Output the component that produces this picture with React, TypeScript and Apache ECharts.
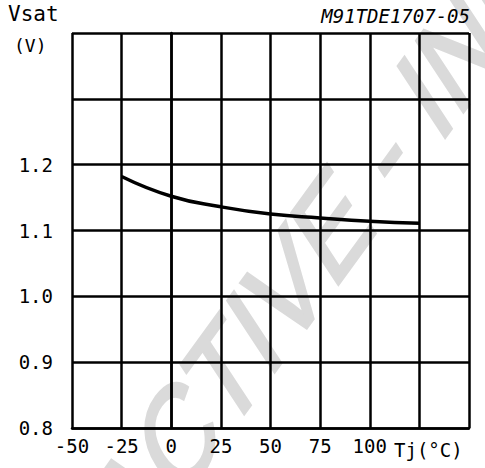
import React, { useEffect, useRef } from "react";
import * as echarts from "echarts";

const tempC = [-25, 0, 25, 50, 75, 100, 125];
const vsat = [1.182, 1.152, 1.136, 1.125, 1.119, 1.114, 1.111];
const xTickMax = 100;
const yTickMax = 1.2;
const chartCode = "M91TDE1707-05";
const yName = "Vsat";
const yUnit = "(V)";
const xName = "Tj(°C)";
const watermark = "ACTIVE - INFO";

const FONT = "'DejaVu Sans Mono', monospace";

export default function App() {
  const ref = useRef<HTMLDivElement>(null);
  useEffect(() => {
    if (!ref.current) return;
    const chart = echarts.init(ref.current, null, { renderer: "svg" });
    chart.setOption({
      animation: false,
      backgroundColor: "#ffffff",
      grid: { left: 72, right: 16, top: 33, bottom: 40 },
      xAxis: {
        type: "value",
        min: -50,
        max: 150,
        interval: 25,
        axisLine: { show: true, lineStyle: { color: "#000", width: 2.5 } },
        axisTick: { show: false },
        splitLine: { show: true, lineStyle: { color: "#000", width: 2.5 } },
        axisLabel: {
          color: "#000",
          fontFamily: FONT,
          fontSize: 19,
          margin: 8,
          formatter: (v: number) => (v <= xTickMax ? String(v) : ""),
        },
      },
      yAxis: {
        type: "value",
        min: 0.8,
        max: 1.4,
        interval: 0.1,
        axisLine: { show: true, lineStyle: { color: "#000", width: 2.5 } },
        axisTick: { show: false },
        splitLine: { show: true, lineStyle: { color: "#000", width: 2.5 } },
        axisLabel: {
          color: "#000",
          fontFamily: FONT,
          fontSize: 19,
          margin: 19,
          formatter: (v: number) => (v <= yTickMax + 1e-9 ? v.toFixed(1) : ""),
        },
      },
      graphic: [
        {
          type: "text",
          z: -10,
          silent: true,
          x: 108,
          y: 532,
          rotation: 0.942,
          skewX: -0.36,
          style: {
            text: watermark,
            fill: "#dadada",
            stroke: "#dadada",
            lineWidth: 3,
            font: "116px 'Liberation Sans', Arial, sans-serif",
            textAlign: "left",
            textVerticalAlign: "middle",
          },
        },
        {
          type: "text",
          x: 8,
          y: 14,
          style: {
            text: yName,
            fill: "#000",
            font: `21px ${FONT}`,
            textAlign: "left",
            textVerticalAlign: "middle",
          },
        },
        {
          type: "text",
          x: 14,
          y: 45,
          style: {
            text: yUnit,
            fill: "#000",
            font: `18px ${FONT}`,
            textAlign: "left",
            textVerticalAlign: "middle",
          },
        },
        {
          type: "text",
          x: 470,
          y: 16,
          style: {
            text: chartCode,
            fill: "#000",
            font: `italic 19px ${FONT}`,
            textAlign: "right",
            textVerticalAlign: "middle",
          },
        },
        {
          type: "text",
          x: 394,
          y: 450,
          style: {
            text: xName,
            fill: "#000",
            font: `19px ${FONT}`,
            textAlign: "left",
            textVerticalAlign: "middle",
          },
        },
      ],
      series: [
        {
          type: "line",
          data: tempC.map((t, i) => [t, vsat[i]]),
          smooth: true,
          symbol: "none",
          z: 5,
          lineStyle: { color: "#000", width: 3.5 },
        },
      ],
    });
    return () => chart.dispose();
  }, []);
  return <div ref={ref} style={{ width: 485, height: 468, position: "absolute", left: 0, top: 0 }} />;
}
